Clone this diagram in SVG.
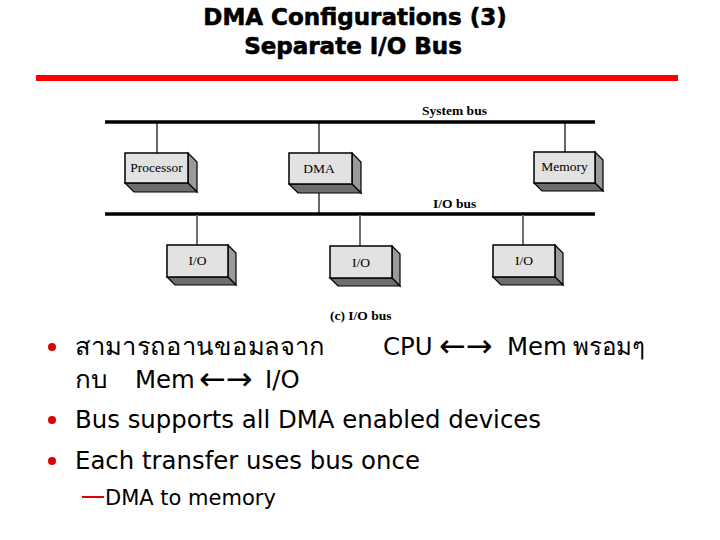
<svg xmlns="http://www.w3.org/2000/svg" width="720" height="540" viewBox="0 0 720 540">
<style>
.title{font-family:"DejaVu Sans",Verdana,sans-serif;font-weight:bold;font-size:23px;fill:#000;text-anchor:middle;stroke:#000;stroke-width:0.6}
.front{fill:#e2e2e2;stroke:#000;stroke-width:1.5}
.side{fill:#9a9a9a;stroke:#000;stroke-width:1.2}
.bottom{fill:#6e6e6e;stroke:#000;stroke-width:1.2}
.lbl{font-family:"Liberation Serif","Times New Roman",serif;font-size:13.5px;fill:#000;text-anchor:middle}
.blbl{font-family:"Liberation Serif","Times New Roman",serif;font-size:13.5px;font-weight:bold;fill:#000}
.bus{stroke:#000;stroke-width:3.5}
.wire{stroke:#000;stroke-width:1.2}
.gwire{stroke:#707070;stroke-width:2}
.body{font-family:"DejaVu Sans",Tahoma,sans-serif;font-size:24.4px;fill:#000}
.arr{font-family:"DejaVu Sans",sans-serif;font-size:32px;fill:#000}
.sub{font-family:"DejaVu Sans",Tahoma,sans-serif;font-size:21px;fill:#000}
.dot{fill:#e00000}
</style>
<rect width="720" height="540" fill="#fff"/>
<g id="title">
<text class="title" x="355" y="25">DMA Configurations (3)</text>
<text class="title" x="353" y="54">Separate I/O Bus</text>
</g>
<rect x="36" y="75" width="642" height="6" fill="#ff0000"/>
<g id="connectors">
<line class="bus" x1="105" y1="122" x2="595" y2="122"/>
<line class="bus" x1="105" y1="214" x2="595" y2="214"/>
<line class="wire" x1="157" y1="122" x2="157" y2="153"/>
<line class="wire" x1="319" y1="122" x2="319" y2="153"/>
<line class="wire" x1="565" y1="122" x2="565" y2="152"/>
<line class="wire" x1="319" y1="184" x2="319" y2="214"/>
<line class="gwire" x1="197" y1="215" x2="197" y2="245"/>
<line class="gwire" x1="360" y1="215" x2="360" y2="246"/>
<line class="gwire" x1="523" y1="215" x2="523" y2="245"/>
<text class="blbl" x="422" y="115">System bus</text>
<text class="blbl" x="433" y="208">I/O bus</text>
</g>
<g id="processor">
<polygon class="side" points="188,153 197,162 197,192 188,183"/>
<polygon class="bottom" points="125,183 188,183 197,192 134,192"/>
<rect class="front" x="125" y="153" width="63" height="30"/>
<text class="lbl" x="156.5" y="172">Processor</text>
</g>
<g id="dma">
<polygon class="side" points="352,153 361,162 361,193 352,184"/>
<polygon class="bottom" points="289,184 352,184 361,193 298,193"/>
<rect class="front" x="289" y="153" width="63" height="31"/>
<text class="lbl" x="319" y="173">DMA</text>
</g>
<g id="memory">
<polygon class="side" points="595,152 603,160 603,191 595,183"/>
<polygon class="bottom" points="534,183 595,183 603,191 542,191"/>
<rect class="front" x="534" y="152" width="61" height="31"/>
<text class="lbl" x="564.5" y="171">Memory</text>
</g>
<g id="io1">
<polygon class="side" points="228,245 236,253 236,285 228,277"/>
<polygon class="bottom" points="167,277 228,277 236,285 175,285"/>
<rect class="front" x="167" y="245" width="61" height="32"/>
<text class="lbl" x="197.5" y="265" font-size="12.5">I/O</text>
</g>
<g id="io2">
<polygon class="side" points="392,246 400,254 400,286 392,278"/>
<polygon class="bottom" points="330,278 392,278 400,286 338,286"/>
<rect class="front" x="330" y="246" width="62" height="32"/>
<text class="lbl" x="361" y="267" font-size="12.5">I/O</text>
</g>
<g id="io3">
<polygon class="side" points="555,245 563,253 563,285 555,277"/>
<polygon class="bottom" points="493,277 555,277 563,285 501,285"/>
<rect class="front" x="493" y="245" width="62" height="32"/>
<text class="lbl" x="524" y="265" font-size="12.5">I/O</text>
</g>
<text class="blbl" x="330" y="320">(c) I/O bus</text>
<g id="bullets">
<circle class="dot" cx="52" cy="347" r="4"/>
<text class="body" x="75" y="355" textLength="250" lengthAdjust="spacingAndGlyphs">สามารถอานขอมลจาก</text>
<text class="body" x="383" y="355">CPU</text>
<text class="arr" x="439" y="357">←→</text>
<text class="body" x="507" y="355">Mem</text>
<text class="body" x="573" y="355" textLength="72" lengthAdjust="spacingAndGlyphs">พรอมๆ</text>
<text class="body" x="75" y="388" textLength="32" lengthAdjust="spacingAndGlyphs">กบ</text>
<text class="body" x="135" y="388">Mem</text>
<text class="arr" x="199" y="390">←→</text>
<text class="body" x="265" y="388">I/O</text>
<circle class="dot" cx="52" cy="420" r="4"/>
<text class="body" x="75" y="428">Bus supports all DMA enabled devices</text>
<circle class="dot" cx="52" cy="461" r="4"/>
<text class="body" x="75" y="469">Each transfer uses bus once</text>
<line x1="82" y1="497" x2="104" y2="497" stroke="#e00000" stroke-width="2"/>
<text class="sub" x="105" y="505">DMA to memory</text>
</g>
</svg>
